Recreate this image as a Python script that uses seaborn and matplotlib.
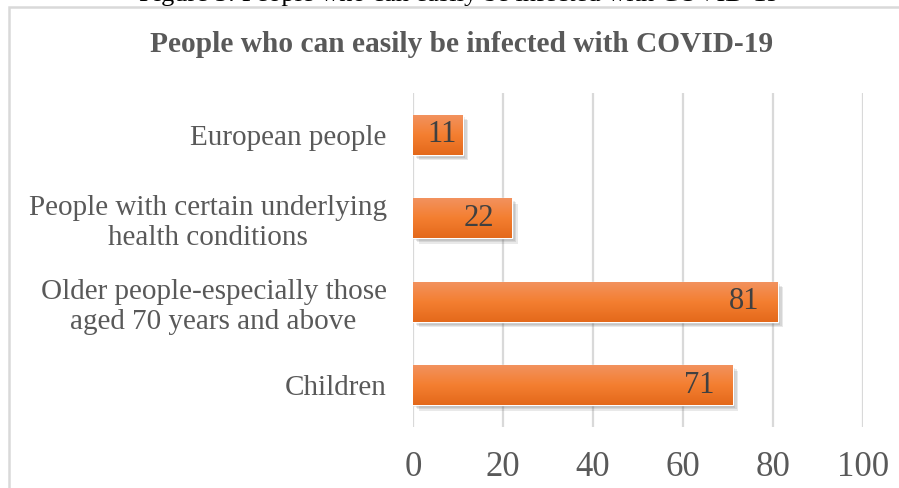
import numpy as np
import pandas as pd
import seaborn as sns
import matplotlib.pyplot as plt
import matplotlib.patheffects as pe
from matplotlib.patches import Rectangle
from matplotlib.colors import LinearSegmentedColormap

categories = [
    "European people",
    "People with certain underlying\nhealth conditions",
    "Older people-especially those\naged 70 years and above",
    "Children",
]
values = [11, 22, 81, 71]
x_ticks = [0, 20, 40, 60, 80, 100]

title = "People who can easily be infected with COVID-19"
caption = "Figure 5: People who can easily be infected with COVID-19"

sns.set_style("white")
plt.rcParams["font.family"] = ["Liberation Serif", "DejaVu Serif"]

df = pd.DataFrame({"group": categories, "value": values})

fig = plt.figure(figsize=(8.99, 4.88), dpi=100)
ax = fig.add_axes([413 / 899, 1 - 427 / 488, 450 / 899, 334 / 488])

sns.barplot(data=df, x="value", y="group", orient="h", order=categories,
            color="#F47D30", width=0.48, saturation=1, ax=ax, zorder=3)

# orange vertical gradient and soft drop shadow on each bar
grad = LinearSegmentedColormap.from_list(
    "bar", ["#F29360", "#F47F31", "#E4691B"])
gimg = np.linspace(0, 1, 64).reshape(-1, 1)
shadow = [pe.SimplePatchShadow(offset=(o, -o), shadow_rgbFace="#555555", alpha=0.13)
          for o in (1.0, 2.0, 3.0, 4.0)]
for p in ax.patches:
    p.set_path_effects(shadow + [pe.Normal()])
    x0, y0 = p.get_x(), p.get_y()
    w, h = p.get_width(), p.get_height()
    im = ax.imshow(gimg, cmap=grad, aspect="auto", extent=[x0, x0 + w, y0 + h, y0],
                   zorder=4, interpolation="bilinear")
    im.set_clip_path(p)

ax.set_xlim(0, 100)
ax.set_ylim(3.5, -0.5)
ax.set_xticks(x_ticks)
ax.set_xticklabels([str(t) for t in x_ticks])
ax.xaxis.grid(True, color="#D9D9D9", linewidth=1.6, zorder=0)
ax.set_axisbelow(True)
for s in ax.spines.values():
    s.set_visible(False)
ax.set_xlabel("")
ax.set_ylabel("")
ax.tick_params(axis="x", length=0, pad=17, labelsize=25, labelcolor="#595959")
ax.tick_params(axis="y", length=0, pad=19, labelsize=21, labelcolor="#595959")
for lbl in ax.get_yticklabels():
    lbl.set_multialignment("center")

# value labels: inside the bar end, centred when the bar is too short
px_per_unit = 450 / 100
for i, v in enumerate(values):
    if v * px_per_unit > 60:
        ax.annotate(str(v), xy=(v, i), xytext=(-13, 0), textcoords="offset points",
                    ha="right", va="center", fontsize=22, color="#404040", zorder=6)
    else:
        ax.annotate(str(v), xy=(v / 2, i), xytext=(3, 0), textcoords="offset points",
                    ha="center", va="center", fontsize=22, color="#404040", zorder=6)

fig.text(462 / 899, 1 - 45 / 488, title, ha="center", va="center",
         fontsize=21.2, fontweight="bold", color="#595959")

# chart frame
fig.add_artist(Rectangle((9 / 899, -0.1), 1.2, (1 - 7 / 488) + 0.1,
                         transform=fig.transFigure, fill=False,
                         edgecolor="#D9D9D9", linewidth=1.8))

# document caption above the chart
fig.text(459 / 899, 1 - 0.5 / 488, caption, ha="center", va="baseline",
         fontsize=19, color="black")

fig.savefig("out.png", dpi=100)
